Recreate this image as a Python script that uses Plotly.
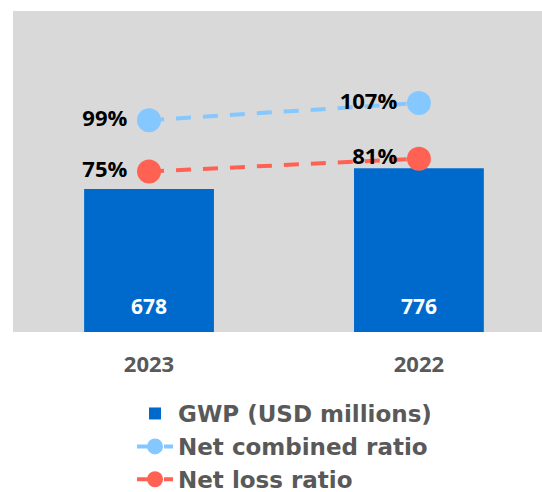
import plotly.graph_objects as go

years = ["2023", "2022"]
gwp = [678, 776]
net_combined = [99, 107]
net_loss = [75, 81]

BAR_C = "#006ACC"
BLUE_C = "#85C8FF"
RED_C = "#FF6253"
BG = "#D9D9D9"
GREY = "#595959"
NUMFONT = "Open Sans"
NBSP = "\u00a0"

fig = go.Figure()
fig.add_trace(go.Bar(
    x=years, y=gwp, name="GWP (USD millions)",
    marker=dict(color=BAR_C, line=dict(width=0)), width=0.481,
    yaxis="y", hoverinfo="skip",
))
fig.add_trace(go.Scatter(
    x=years, y=net_combined, name="Net combined ratio", yaxis="y2",
    mode="lines+markers+text",
    line=dict(color=BLUE_C, width=4, dash="15px,12px"),
    marker=dict(color=BLUE_C, size=24),
    text=[f"{v}%{NBSP}" for v in net_combined], textposition="middle left",
    textfont=dict(family=NUMFONT, size=22, color="black", weight="bold"),
))
fig.add_trace(go.Scatter(
    x=years, y=net_loss, name="Net loss ratio", yaxis="y2",
    mode="lines+markers+text",
    line=dict(color=RED_C, width=4, dash="15px,12px"),
    marker=dict(color=RED_C, size=24),
    text=[f"{v}%{NBSP}" for v in net_loss], textposition="middle left",
    textfont=dict(family=NUMFONT, size=22, color="black", weight="bold"),
))

for i, v in enumerate(gwp):
    fig.add_annotation(
        x=i, y=0, xref="x", yref="y", text=str(v), showarrow=False,
        yanchor="bottom", yshift=10,
        font=dict(family=NUMFONT, size=21, color="white", weight="bold"),
    )

fig.update_layout(
    width=542, height=492,
    margin=dict(l=13, r=0, t=11, b=160, autoexpand=False),
    paper_bgcolor="white", plot_bgcolor=BG,
    showlegend=True,
    legend=dict(
        x=0.225, y=-0.187, xanchor="left", yanchor="top",
        font=dict(family="DejaVu Sans", size=23, color=GREY, weight="bold"),
        bgcolor="rgba(0,0,0,0)", tracegroupgap=0, itemsizing="trace",
        itemwidth=36,
    ),
    xaxis=dict(
        type="category", range=[-0.504, 1.456], showgrid=False, zeroline=False,
        showline=False, ticks="", ticklabelstandoff=17, automargin=False,
        tickfont=dict(family=NUMFONT, size=22, color=GREY, weight="bold"),
    ),
    yaxis=dict(range=[0, 1522], visible=False, showgrid=False, zeroline=False),
    yaxis2=dict(range=[0, 150], overlaying="y", side="right", visible=False,
                showgrid=False, zeroline=False),
    barmode="overlay",
)

fig.write_html("out.html")
